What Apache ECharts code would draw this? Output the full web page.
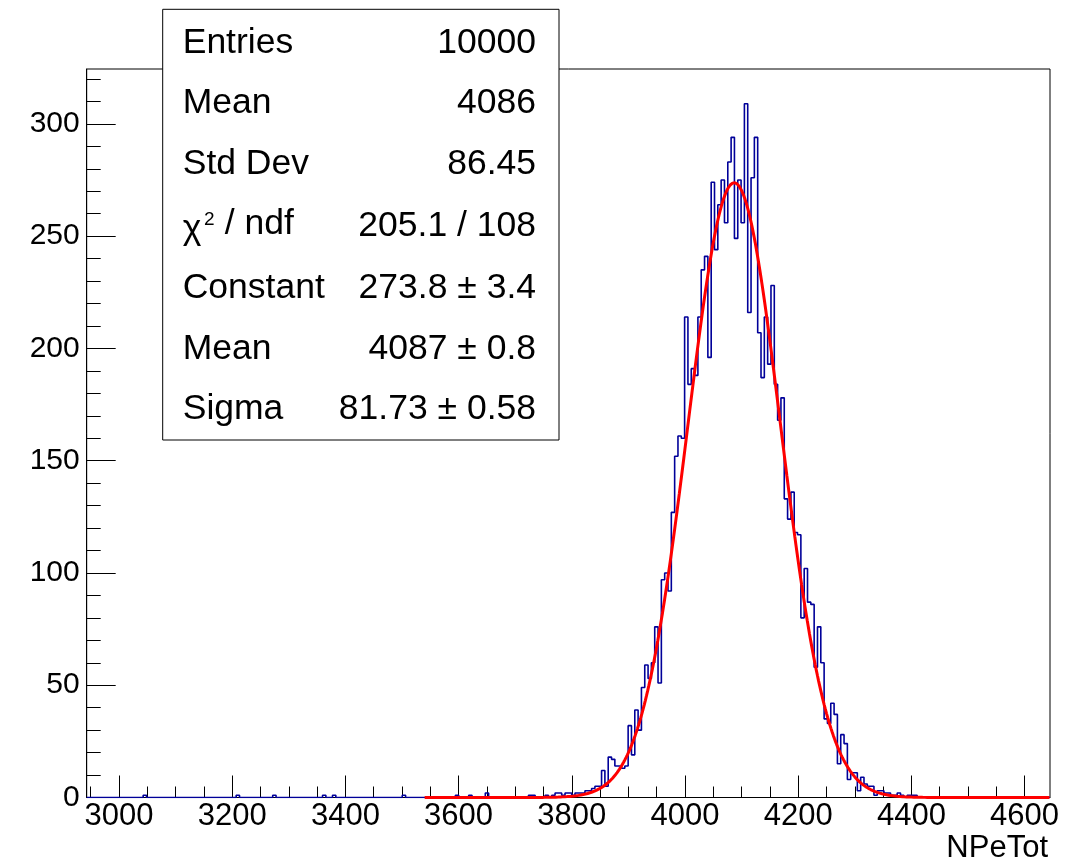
<!DOCTYPE html>
<html>
<head>
<meta charset="utf-8">
<script src="https://cdn.jsdelivr.net/npm/echarts@6/dist/echarts.min.js"></script>
<style>
  html, body { margin: 0; padding: 0; background: #ffffff; }
  #main { width: 1074px; height: 866px; }
</style>
</head>
<body>
<div id="main"></div>
<script>
// Histogram binning of NPeTot
const histLow = 2942.9;
const binWidth = 5.869;
const nBins = 290;

// Sparse low-side tail: bin index -> entries
const tailBins   = [17, 45, 56, 71, 74, 95, 111, 115, 120, 133, 134, 138, 140, 141, 142, 143, 144, 145, 146, 147, 148];
const tailCounts = [ 1,  1,  1,  1,  1,  1,   1,   1,   2,   1,   1,   1,   1,   2,   2,   1,   2,   2,   1,   2,   2];

// Main peak: consecutive bins starting at coreFirstBin
const coreFirstBin = 149;
const coreCounts = [
  2, 3, 3, 4, 5, 5, 12, 5, 18, 17,
  14, 14, 13, 14, 32, 19, 39, 30, 49, 59,
  53, 60, 76, 51, 97, 100, 92, 127, 152, 161,
  160, 214, 184, 191, 188, 214, 235, 241, 196, 274,
  244, 264, 275, 256, 283, 294, 249, 275, 256, 309,
  216, 276, 294, 207, 187, 214, 193, 228, 184, 168,
  178, 133, 124, 136, 118, 117, 80, 102, 87, 86,
  58, 76, 60, 35, 33, 42, 37, 15, 28, 24,
  8, 11, 11, 3, 9, 6, 5, 5, 1, 3,
  3, 2, 2, 1, 1, 2, 1, 0, 1, 1,
  1
];

// Gaussian fit result
const fitConstant = 273.8;
const fitMean = 4087;
const fitSigma = 81.73;
const fitRange = [3540, 4645];

// Axis ticks
const xMajorTicks = [3000, 3200, 3400, 3600, 3800, 4000, 4200, 4400, 4600];
const xMinorTicks = [];
for (let v = 2950; v <= 4640; v += 50) xMinorTicks.push(v);
const yMajorTicks = [0, 50, 100, 150, 200, 250, 300];
const yMinorTicks = [];
for (let v = 0; v <= 320; v += 10) yMinorTicks.push(v);
const yMax = 324.45;
const xTitle = 'NPeTot';

// Statistics box rows
const statLabels = ['Entries', 'Mean', 'Std Dev', 'CHI2', 'Constant', 'Mean', 'Sigma'];
const statValues = ['10000', '4086', '86.45', '205.1 / 108', '273.8 \u00b1 3.4', '4087 \u00b1 0.8', '81.73 \u00b1 0.58'];

// ---- build series data ----
const counts = new Array(nBins).fill(0);
tailBins.forEach((b, i) => { counts[b] = tailCounts[i]; });
coreCounts.forEach((c, i) => { counts[coreFirstBin + i] = c; });

const histXMax = histLow + nBins * binWidth;
const histPts = [];
for (let k = 0; k < nBins; k++) histPts.push([histLow + k * binWidth, counts[k]]);
histPts.push([histXMax, counts[nBins - 1]]);

const fitPts = [];
for (let x = fitRange[0]; x <= fitRange[1]; x += 2) {
  const z = (x - fitMean) / fitSigma;
  fitPts.push([x, fitConstant * Math.exp(-0.5 * z * z)]);
}

const FONT = '"Liberation Sans", Arial, Helvetica, sans-serif';
const STAT_FONT = '35.5px ' + FONT;

// ---- statistics box graphics ----
const boxL = 162.7, boxT = 9.3, boxW = 396.3, boxH = 430.7;
const rowY = [43, 103.5, 164, 226, 288, 349.5, 409.5];
const graphics = [{
  type: 'rect', z: 100,
  shape: { x: boxL, y: boxT, width: boxW, height: boxH },
  style: { fill: '#ffffff', stroke: '#000000', lineWidth: 1 }
}];
statLabels.forEach((lab, i) => {
  if (lab === 'CHI2') {
    graphics.push({ type: 'text', z: 101, x: 182.7, y: rowY[i] + 3,
      style: { text: '\u03c7', font: STAT_FONT, fill: '#000', textVerticalAlign: 'middle', textAlign: 'left' } });
    graphics.push({ type: 'text', z: 101, x: 204, y: rowY[i] - 6,
      style: { text: '2', font: '19px ' + FONT, fill: '#000', textVerticalAlign: 'middle', textAlign: 'left' } });
    graphics.push({ type: 'text', z: 101, x: 215, y: rowY[i] - 2,
      style: { text: ' / ndf', font: STAT_FONT, fill: '#000', textVerticalAlign: 'middle', textAlign: 'left' } });
  } else {
    graphics.push({ type: 'text', z: 101, x: 182.7, y: rowY[i],
      style: { text: lab, font: STAT_FONT, fill: '#000', textVerticalAlign: 'middle', textAlign: 'left' } });
  }
  graphics.push({ type: 'text', z: 101, x: 536, y: rowY[i],
    style: { text: statValues[i], font: STAT_FONT, fill: '#000', textVerticalAlign: 'middle', textAlign: 'right' } });
});
graphics.push({ type: 'text', z: 101, x: 1048, y: 848,
  style: { text: xTitle, font: '31px ' + FONT, fill: '#000', textVerticalAlign: 'middle', textAlign: 'right' } });

const chart = echarts.init(document.getElementById('main'), null, { renderer: 'canvas' });
chart.setOption({
  animation: false,
  backgroundColor: '#ffffff',
  grid: {
    left: 86.7, top: 69, width: 963.3, height: 728.5,
    show: true, borderColor: '#000000', borderWidth: 1, backgroundColor: 'transparent'
  },
  xAxis: [{
    type: 'value', min: histLow, max: histXMax, position: 'bottom',
    axisLine: { show: true, onZero: false, lineStyle: { color: '#000', width: 1 } },
    axisTick: { show: true, inside: true, length: 22, customValues: xMajorTicks, lineStyle: { color: '#000', width: 1 } },
    axisLabel: { show: true, customValues: xMajorTicks, fontSize: 31, fontFamily: FONT, color: '#000', margin: 3,
      formatter: v => String(v) },
    splitLine: { show: false }
  }, {
    type: 'value', min: histLow, max: histXMax, position: 'bottom',
    axisLine: { show: false },
    axisTick: { show: true, inside: true, length: 11, customValues: xMinorTicks, lineStyle: { color: '#000', width: 1 } },
    axisLabel: { show: false },
    splitLine: { show: false }
  }],
  yAxis: [{
    type: 'value', min: 0, max: yMax, position: 'left',
    axisLine: { show: true, onZero: false, lineStyle: { color: '#000', width: 1 } },
    axisTick: { show: true, inside: true, length: 29, customValues: yMajorTicks, lineStyle: { color: '#000', width: 1 } },
    axisLabel: { show: true, customValues: yMajorTicks, fontSize: 30, fontFamily: FONT, color: '#000', margin: 7,
      formatter: v => String(v) },
    splitLine: { show: false }
  }, {
    type: 'value', min: 0, max: yMax, position: 'left',
    axisLine: { show: false },
    axisTick: { show: true, inside: true, length: 14, customValues: yMinorTicks, lineStyle: { color: '#000', width: 1 } },
    axisLabel: { show: false },
    splitLine: { show: false }
  }],
  series: [{
    name: 'NPeTot', type: 'line', step: 'end', xAxisIndex: 0, yAxisIndex: 0,
    data: histPts, showSymbol: false, symbol: 'none',
    lineStyle: { color: '#000099', width: 1.6 }, z: 3
  }, {
    name: 'gaus', type: 'line', xAxisIndex: 0, yAxisIndex: 0,
    data: fitPts, showSymbol: false, symbol: 'none', smooth: false,
    lineStyle: { color: '#ff0000', width: 3 }, z: 4
  }],
  graphic: graphics
});
</script>
</body>
</html>
